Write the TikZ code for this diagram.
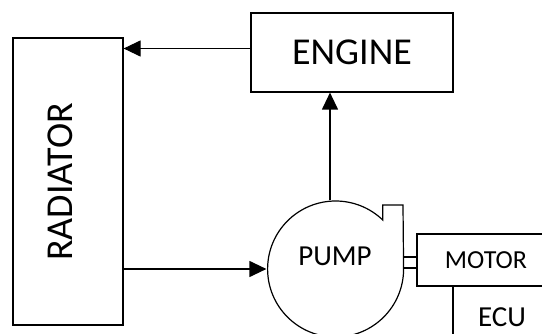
\documentclass[tikz,border=0pt]{standalone}
\usepackage{fontspec}
\newfontfamily\diagfont{Carlito}
\usetikzlibrary{arrows.meta}

\begin{document}
\begin{tikzpicture}[x=1pt,y=-1pt,line width=1.2pt,
	box/.style={draw,rectangle,inner sep=0pt},
	flow/.style={-{Triangle[length=17pt,width=16pt]}},
	lbl/.style={inner sep=0pt,font=\diagfont}]
		\useasboundingbox (0,0) rectangle (542,334);
		% blocks
		\node[box,minimum width=110pt,minimum height=287pt] (radiator) at (68,181.5) {};
		\node[lbl,rotate=90,font=\diagfont\fontsize{38}{40}\selectfont] (radtext) at (60,182) {RADIATOR};
		\node[box,minimum width=202pt,minimum height=79pt,font=\diagfont\fontsize{38}{40}\selectfont] (engine) at (352,52.5) {ENGINE};
		\node[circle,inner sep=0pt,minimum size=136pt] (pump) at (335,269) {};
		\node[lbl,font=\diagfont\fontsize{29}{31}\selectfont] (pumptext) at (335,256) {PUMP};
		\node[box,minimum width=138pt,minimum height=52pt,font=\diagfont\fontsize{26}{28}\selectfont] (motor) at (486,260) {MOTOR};
		\node[box,minimum width=98pt,minimum height=63pt,font=\diagfont\fontsize{29}{31}\selectfont] (ecu) at (502,317.5) {ECU};
		% pump casing with outlet
		\coordinate (outlet) at (403,205);
		\draw (pump.east) arc[start angle=0,end angle=-314,radius=68pt] |- (outlet) -- (pump.east);
		% shaft
		\draw ([yshift=3pt]motor.west) -- ([yshift=3pt]motor.west -| pump.east);
		\draw ([yshift=-8pt]motor.west) -- ([yshift=-8pt]motor.west -| pump.east);
		% coolant flow
		\coordinate (hot) at ([yshift=4pt]engine.west);
		\coordinate (up) at ([xshift=-5pt]pump.north);
		\draw[flow] (hot) -- (hot -| radiator.east);
		\draw[flow] (radiator.east |- pump.west) -- (pump.west);
		\draw[flow] (up) -- (up |- engine.south);
	\end{tikzpicture}
\end{document}
